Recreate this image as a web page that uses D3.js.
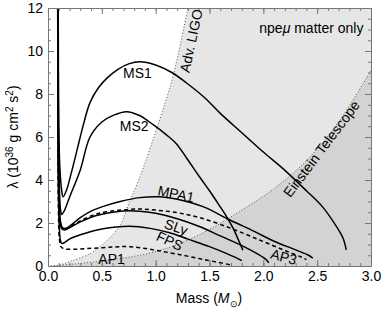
<!DOCTYPE html>
<html>
<head>
<meta charset="utf-8">
<script src="https://cdn.jsdelivr.net/npm/d3@7"></script>
<style>
  body { margin: 0; background: #fff; }
  text { font-family: "Liberation Sans", Arial, sans-serif; fill: #000; }
</style>
</head>
<body>
<svg id="chart" width="382" height="309"></svg>
<script>
// equation-of-state curves, [mass (Msun), lambda (1e36 g cm^2 s^2)]
var ms1 = [[0.095,12],[0.097,9],[0.10,6.5],[0.11,4.6],[0.125,3.6],[0.14,3.22],[0.17,3.5],[0.22,4.4],[0.27,5.4],[0.33,6.6],[0.39,7.6],[0.47,8.3],[0.55,8.75],[0.65,9.15],[0.75,9.4],[0.85,9.5],[1.0,9.35],[1.15,9.0],[1.29,8.5],[1.45,7.85],[1.6,7.1],[1.8,6.2],[2.0,5.3],[2.2,4.45],[2.4,3.5],[2.55,2.75],[2.68,1.83],[2.74,1.3],[2.77,0.75]];
var ms2 = [[0.093,12],[0.095,8],[0.10,5.2],[0.107,3.4],[0.117,2.6],[0.127,2.4],[0.15,2.55],[0.2,3.2],[0.3,4.47],[0.39,6.0],[0.5,6.7],[0.61,7.02],[0.73,7.18],[0.85,7.0],[0.98,6.56],[1.1,6.1],[1.19,5.7],[1.29,5.0],[1.4,4.2],[1.5,3.5],[1.6,2.75],[1.66,2.29],[1.72,1.75],[1.77,1.2],[1.81,0.74]];
var mpa1 = [[0.092,12],[0.094,8],[0.097,5],[0.103,3],[0.115,2.1],[0.135,1.78],[0.16,1.75],[0.2,1.85],[0.3,2.25],[0.4,2.55],[0.5,2.75],[0.67,3.0],[0.85,3.18],[1.04,3.22],[1.25,3.05],[1.44,2.76],[1.69,2.14],[1.92,1.6],[2.1,1.15],[2.3,0.75],[2.42,0.5],[2.46,0.36]];
var ap3 = [[0.092,12],[0.094,8],[0.097,5],[0.103,3],[0.115,2.05],[0.135,1.72],[0.16,1.7],[0.2,1.8],[0.3,2.1],[0.45,2.42],[0.67,2.6],[0.85,2.65],[1.0,2.6],[1.2,2.48],[1.41,2.25],[1.7,1.75],[1.97,1.2],[2.2,0.72],[2.35,0.42],[2.4,0.3]];
var sly = [[0.091,12],[0.093,8],[0.096,5],[0.102,3],[0.113,2.05],[0.13,1.72],[0.155,1.68],[0.2,1.78],[0.3,2.05],[0.45,2.35],[0.67,2.55],[0.85,2.55],[1.0,2.45],[1.2,2.2],[1.4,1.85],[1.6,1.4],[1.8,0.95],[1.95,0.55],[2.03,0.28],[2.05,0.15]];
var fps = [[0.09,12],[0.092,8],[0.094,5],[0.098,3],[0.105,1.8],[0.115,1.2],[0.127,1.05],[0.15,1.08],[0.2,1.25],[0.3,1.45],[0.5,1.72],[0.76,1.85],[0.95,1.75],[1.13,1.55],[1.3,1.25],[1.5,0.9],[1.65,0.6],[1.75,0.38],[1.8,0.25]];
var ap1 = [[0.09,12],[0.092,8],[0.094,5],[0.097,2.5],[0.105,1.3],[0.12,0.9],[0.15,0.8],[0.25,0.78],[0.4,0.82],[0.6,0.88],[0.76,0.9],[0.98,0.75],[1.2,0.55],[1.45,0.3],[1.69,0.06]];

// detector sensitivity boundaries
var ligo = [[0.08,0],[0.2,0.2],[0.4,0.6],[0.55,1.2],[0.67,1.9],[0.75,2.9],[0.85,4.1],[0.95,5.5],[1.05,7.0],[1.16,8.8],[1.30,12]];
var et = [[0.0,0],[0.3,0.12],[0.6,0.3],[0.9,0.55],[1.2,1.0],[1.5,1.7],[1.8,2.6],[2.1,3.6],[2.4,4.9],[2.7,6.7],[3.0,9.1]];

var xTicks = [0, 0.5, 1, 1.5, 2, 2.5, 3];
var yTicks = [0, 2, 4, 6, 8, 10, 12];

var svg = d3.select("#chart");

// plot box
var pL = 48, pR = 371, pT = 8, pB = 266;

var x = d3.scaleLinear().domain([0, 3]).range([pL, pR]);
var y = d3.scaleLinear().domain([0, 12]).range([pB, pT]);

svg.append("defs").append("clipPath").attr("id", "clip")
  .append("rect")
    .attr("x", pL).attr("y", pT)
    .attr("width", pR - pL).attr("height", pB - pT);

var plot = svg.append("g").attr("clip-path", "url(#clip)");

var line = d3.line()
    .x(d => x(d[0]))
    .y(d => y(d[1]))
    .curve(d3.curveCatmullRom.alpha(0.5));

// shaded regions, closed along the right/bottom edges
plot.append("path")
    .attr("d", line(ligo) + "L" + x(3.05) + "," + y(12.5) + "L" + x(3.05) + "," + y(-0.5) + "L" + x(0.08) + "," + y(-0.5) + "Z")
    .attr("fill", "#e6e6e6");
plot.append("path")
    .attr("d", line(et) + "L" + x(3.05) + "," + y(-0.5) + "L" + x(0) + "," + y(-0.5) + "Z")
    .attr("fill", "#d3d3d3");

plot.selectAll("path.bound")
    .data([ligo, et]).enter()
    .append("path")
    .attr("class", "bound")
    .attr("d", line)
    .attr("fill", "none")
    .attr("stroke", "#555")
    .attr("stroke-width", 1)
    .attr("stroke-dasharray", "1,2");

// EOS curves
var curves = [
    {data: ms1, dash: null},
    {data: ms2, dash: null},
    {data: mpa1, dash: null},
    {data: sly, dash: null},
    {data: fps, dash: null},
    {data: ap3, dash: "4,3"},
    {data: ap1, dash: "4,3"}
];
plot.selectAll("path.eos")
    .data(curves).enter()
    .append("path")
    .attr("class", "eos")
    .attr("d", d => line(d.data))
    .attr("fill", "none")
    .attr("stroke", "#000")
    .attr("stroke-width", 1.5)
    .attr("stroke-dasharray", d => d.dash);

// axes with inward ticks on all four sides
function minor(step, max){ return d3.range(0, max + 1e-9, step); }

svg.append("g").attr("transform", "translate(0," + pB + ")")
    .call(d3.axisBottom(x).tickValues(xTicks).tickSize(-6).tickPadding(5).tickFormat(d3.format(".1f")));
svg.append("g").attr("transform", "translate(0," + pB + ")")
    .call(d3.axisBottom(x).tickValues(minor(0.1, 3)).tickSize(-3).tickFormat(""));
svg.append("g").attr("transform", "translate(0," + pT + ")")
    .call(d3.axisTop(x).tickValues(xTicks).tickSize(-6).tickFormat(""));
svg.append("g").attr("transform", "translate(0," + pT + ")")
    .call(d3.axisTop(x).tickValues(minor(0.1, 3)).tickSize(-3).tickFormat(""));
svg.append("g").attr("transform", "translate(" + pL + ",0)")
    .call(d3.axisLeft(y).tickValues(yTicks).tickSize(-6).tickPadding(5).tickFormat(d3.format("d")));
svg.append("g").attr("transform", "translate(" + pL + ",0)")
    .call(d3.axisLeft(y).tickValues(minor(0.5, 12)).tickSize(-3).tickFormat(""));
svg.append("g").attr("transform", "translate(" + pR + ",0)")
    .call(d3.axisRight(y).tickValues(yTicks).tickSize(-6).tickFormat(""));
svg.append("g").attr("transform", "translate(" + pR + ",0)")
    .call(d3.axisRight(y).tickValues(minor(0.5, 12)).tickSize(-3).tickFormat(""));

svg.selectAll(".domain").attr("stroke", "#777");
svg.selectAll(".tick line").attr("stroke", "#777");
svg.selectAll(".tick text").attr("font-size", 14).attr("font-family", "Liberation Sans, Arial, sans-serif");

// curve and detector labels
var labels = [
    {t: "MS1", m: 0.83, l: 8.98, r: 0},
    {t: "MS2", m: 0.80, l: 6.5, r: 0},
    {t: "MPA1", m: 1.19, l: 3.35, r: 12},
    {t: "SLy", m: 1.19, l: 1.81, r: 20},
    {t: "FPS", m: 1.13, l: 1.16, r: 25},
    {t: "AP1", m: 0.59, l: 0.33, r: 0},
    {t: "AP3", m: 2.19, l: 0.42, r: 15},
    {t: "Adv. LIGO", m: 1.33, l: 10.47, r: -78},
    {t: "Einstein Telescope", m: 2.54, l: 5.45, r: -53}
];
svg.selectAll("text.lab")
    .data(labels).enter()
    .append("text")
    .attr("class", "lab")
    .attr("transform", d => "translate(" + x(d.m) + "," + y(d.l) + ") rotate(" + d.r + ")")
    .attr("text-anchor", "middle")
    .attr("dy", "0.35em")
    .attr("font-size", 14)
    .text(d => d.t);

var note = svg.append("text")
    .attr("x", x(2.93)).attr("y", y(10.85))
    .attr("text-anchor", "end")
    .attr("font-size", 14);
note.append("tspan").text("npe");
note.append("tspan").attr("font-style", "italic").text("μ");
note.append("tspan").text(" matter only");

// axis titles
var xt = svg.append("text")
    .attr("x", 209).attr("y", 303)
    .attr("text-anchor", "middle")
    .attr("font-size", 14);
xt.append("tspan").text("Mass (");
xt.append("tspan").attr("font-style", "italic").text("M");
xt.append("tspan").attr("font-size", 9).attr("dy", 4).text("⊙");
xt.append("tspan").attr("dy", -4).text(")");

var yt = svg.append("text")
    .attr("transform", "translate(18,137) rotate(-90)")
    .attr("text-anchor", "middle")
    .attr("font-size", 14);
yt.append("tspan").text("λ (10");
yt.append("tspan").attr("font-size", 10).attr("dy", -5).text("36");
yt.append("tspan").attr("dy", 5).text(" g cm");
yt.append("tspan").attr("font-size", 10).attr("dy", -5).text("2");
yt.append("tspan").attr("dy", 5).text(" s");
yt.append("tspan").attr("font-size", 10).attr("dy", -5).text("2");
yt.append("tspan").attr("dy", 5).text(")");
</script>
</body>
</html>
